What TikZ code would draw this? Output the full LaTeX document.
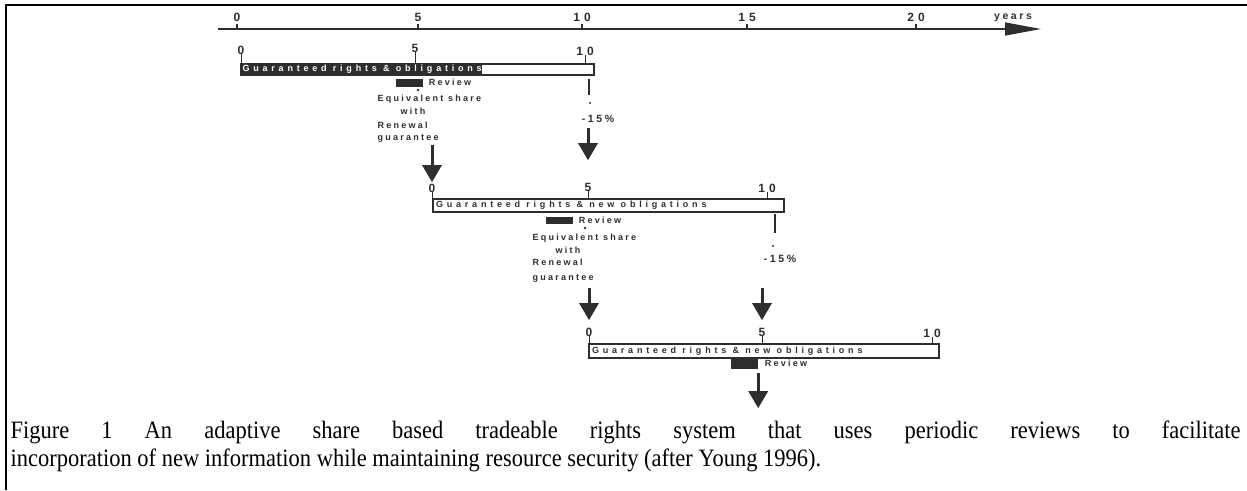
\documentclass[tikz,border=0pt]{standalone}
\usepackage{fontspec}
\setmainfont{Liberation Serif}
\setsansfont{Liberation Sans}
\newfontfamily\capfam[FakeStretch=0.9]{Liberation Serif}
\newfontfamily\wide[LetterSpace=25]{Liberation Sans}
\newfontfamily\wider[LetterSpace=42]{Liberation Sans}
\usetikzlibrary{arrows.meta,positioning}
\colorlet{ink}{black!82}
\newcommand\numfont{\sffamily\bfseries\fontsize{12}{12}\selectfont}
\newcommand\lblfont{\wide\bfseries\fontsize{9}{10}\selectfont}
\newcommand\pctfont{\wide\bfseries\fontsize{10.5}{11}\selectfont}
\newcommand\bartxt{\wider\bfseries\fontsize{9}{9}\selectfont}
\begin{document}
\begin{tikzpicture}[x=1pt, y=-1pt, >={Triangle[width=19pt,length=17pt]}, line width=1.2pt]
	\tikzstyle{bar} = [rectangle, draw=ink, line width=2.2pt, inner sep=0pt, anchor=north west]
	\tikzstyle{bartext} = [font=\bartxt, inner sep=0.5pt, anchor=west, text=ink]
	\tikzstyle{num} = [font=\numfont, inner sep=0pt, text=ink]
	\tikzstyle{lbl} = [font=\lblfont, inner sep=0pt, text=ink]
	\tikzstyle{pct} = [font=\pctfont, inner sep=0pt, text=ink]
	\tikzstyle{reviewbox} = [rectangle, fill=ink, inner sep=0pt, minimum width=27pt, anchor=north west]
	\tikzstyle{bigarrow} = [->, line width=3pt, draw=ink]
	\useasboundingbox (0,0) rectangle (1247,490);
	\draw[line width=2.3pt] (6,490) -- (6,5) -- (1247,5);
	% time axis
	\coordinate (ax0) at (218,29);
	\coordinate (ax1) at (1041,29);
	\draw[ink, line width=1.3pt, -{Triangle[width=13pt,length=36pt]}] (ax0) -- (ax1);
	\foreach \x/\l in {237/0,418/5,582/{1\hspace{4pt}0},747/{1\hspace{4pt}5},916/{2\hspace{4pt}0}}{
		\draw[ink] (\x,29) -- (\x,24);
		\node[num] at (\x,17) {\l};
	}
	\node (yr) [pct] at (1013,18) {years};
	% bars
	\node (bar1) [bar, minimum width=353pt, minimum height=11pt] at (240,63) {};
	\node (bar2) [bar, minimum width=351pt, minimum height=13pt] at (432,198) {};
	\node (bar3) [bar, minimum width=350pt, minimum height=14pt] at (588,343) {};
	\node (txt1) [bartext, fill=ink, text=white, right=1.5pt of bar1.west] {Guaranteed rights \& obligations};
	\node (txt2) [bartext, right=3pt of bar2.west] {Guaranteed rights \& new obligations};
	\node (txt3) [bartext, right=3pt of bar3.west] {Guaranteed rights \& new obligations};
	\foreach \n/\x/\y/\t/\l in {zero1/241/50/63/0, five1/415/48/63/5, ten1/585/51/63/{1\hspace{4pt}0},
		zero2/432/188/198/0, five2/588/187/198/5, ten2/767/188/198/{1\hspace{4pt}0},
		zero3/589/332/343/0, five3/762/332/343/5, ten3/932/333/343/{1\hspace{4pt}0}}{
		\node (\n) [num] at (\x,\y) {\l};
		\draw[ink, line width=1pt] (\x,\y+4) -- (\x,\t);
	}
	% first review
	\node (rev1) [reviewbox, minimum height=8pt] at (395,78) {};
	\node (revtxt1) [lbl, right=5pt of rev1] {Review};
	\fill[ink] (418,90) circle (1.3pt);
	\node (eq1) [lbl, anchor=west] at (377,99) {Equivalent share};
	\node (with1) [lbl] at (413,111) {with};
	\node (ren1) [lbl, anchor=west] at (377,125) {Renewal};
	\node (guar1) [lbl, anchor=west] at (377,139) {guarantee};
	\draw[ink, line width=2.2pt] (589,79) -- (589,95);
	\fill[ink] (590,103) circle (1.1pt);
	\node (pct1) [pct] at (598,119) {-15\%};
	\draw[bigarrow, shorten >=1pt] ([yshift=-2pt]guar1.south -| zero2) -- (zero2.north);
	\draw[bigarrow, shorten >=22pt] ([yshift=-5pt]pct1.south -| five2) -- (five2.north);
	% second review
	\node (rev2) [reviewbox, minimum height=7pt] at (545,216) {};
	\node (revtxt2) [lbl, right=5pt of rev2] {Review};
	\fill[ink] (585,228) circle (1.3pt);
	\node (eq2) [lbl, anchor=west] at (532,238) {Equivalent share};
	\node (with2) [lbl] at (568,250) {with};
	\node (ren2) [lbl, anchor=west] at (532,262) {Renewal};
	\node (guar2) [lbl, anchor=west] at (532,279) {guarantee};
	\draw[ink, line width=2.2pt] (775,214) -- (775,233);
	\fill[ink] (773,246) circle (1.1pt);
	\node (pct2) [pct] at (780,259) {-15\%};
	\draw[bigarrow, shorten >=7pt] ([yshift=-5pt]guar2.south -| zero3) -- (zero3.north);
	\draw[bigarrow, shorten >=7pt] ([yshift=-25pt]pct2.south -| five3) -- (five3.north);
	% third review
	\node (rev3) [reviewbox, minimum height=10pt] at (730,358) {};
	\node (revtxt3) [lbl, right=6pt of rev3] {Review};
	\coordinate (end3) at ([yshift=-39pt]rev3.south east);
	\draw[bigarrow] ([yshift=-4pt]rev3.south east) -- (end3);
	% caption
	\node (cap1) [anchor=base west, inner sep=0pt, font=\capfam\fontsize{25}{27}\selectfont] at (10,438)
		{\makebox[1230pt][s]{Figure 1 An adaptive share based tradeable rights system that uses periodic reviews to facilitate}};
	\node (cap2) [anchor=base west, inner sep=0pt, font=\capfam\fontsize{25}{27}\selectfont] at (10,466)
		{incorporation of new information while maintaining resource security (after Young 1996).};
\end{tikzpicture}
\end{document}
